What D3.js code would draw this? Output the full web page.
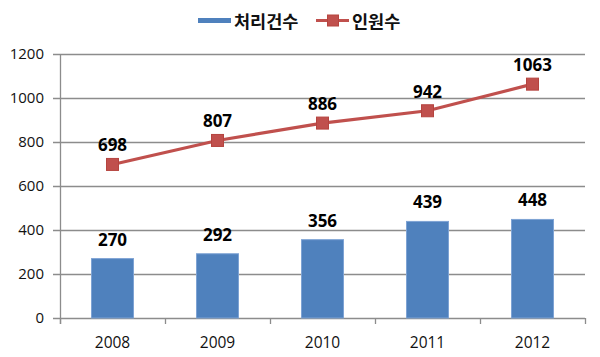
<!DOCTYPE html>
<html><head><meta charset="utf-8">
<script src="https://cdn.jsdelivr.net/npm/d3@7"></script>
<style>
html,body{margin:0;padding:0;background:#fff;}
svg{display:block;}
</style></head>
<body>
<svg id="chart" width="600" height="357"></svg>
<script>
const categories = ["2008","2009","2010","2011","2012"];
const casesHandled = [270, 292, 356, 439, 448];   // 처리건수
const staffCount = [698, 807, 886, 942, 1063];     // 인원수
const yTicks = [0, 200, 400, 600, 800, 1000, 1200];
const seriesNames = ["처리건수", "인원수"];

const svg = d3.select("#chart");
const m = {left: 60, right: 585, top: 54, bottom: 318};
const x = d3.scaleBand().domain(categories).range([m.left, m.right]).paddingInner(0).paddingOuter(0);
const y = d3.scaleLinear().domain([0, 1200]).range([m.bottom, m.top]);
const blue = "#4F81BD", red = "#C0504D", grid = "#8c8c8c";
const numFont = "'Open Sans', 'DejaVu Sans', sans-serif";

// gridlines
svg.append("g").selectAll("line").data(yTicks).join("line")
  .attr("x1", m.left - 7).attr("x2", m.right)
  .attr("y1", d => Math.round(y(d)) + 0.5).attr("y2", d => Math.round(y(d)) + 0.5)
  .attr("stroke", grid).attr("stroke-width", 1.3);

// y axis line
svg.append("line").attr("x1", m.left + 0.5).attr("x2", m.left + 0.5)
  .attr("y1", m.top).attr("y2", m.bottom + 6).attr("stroke", grid).attr("stroke-width", 1.3);

// x tick marks at category boundaries
const bounds = categories.map(c => x(c)).concat([m.right]);
svg.append("g").selectAll("line").data(bounds).join("line")
  .attr("x1", d => Math.round(d) + 0.5).attr("x2", d => Math.round(d) + 0.5)
  .attr("y1", m.bottom).attr("y2", m.bottom + 6)
  .attr("stroke", grid).attr("stroke-width", 1.3);

// y tick labels
svg.append("g").selectAll("text").data(yTicks).join("text")
  .attr("x", 44).attr("y", d => y(d)).attr("dy", "0.36em")
  .attr("text-anchor", "end").attr("font-family", numFont).attr("font-size", 15)
  .attr("fill", "#111").text(d => d);

// x tick labels
svg.append("g").selectAll("text").data(categories).join("text")
  .attr("x", d => x(d) + x.bandwidth() / 2).attr("y", 348)
  .attr("text-anchor", "middle").attr("font-family", numFont).attr("font-size", 15.5)
  .attr("fill", "#111").text(d => d);

// bars
const bw = 42;
svg.append("g").selectAll("rect").data(casesHandled).join("rect")
  .attr("x", (d, i) => x(categories[i]) + x.bandwidth() / 2 - bw / 2)
  .attr("y", d => y(d)).attr("width", bw).attr("height", d => y(0) - y(d))
  .attr("fill", blue).attr("stroke", "#7ea3d4").attr("stroke-width", 1);

// bar labels
svg.append("g").selectAll("text").data(casesHandled).join("text")
  .attr("x", (d, i) => x(categories[i]) + x.bandwidth() / 2)
  .attr("y", d => y(d) - 13)
  .attr("text-anchor", "middle").attr("font-family", numFont).attr("font-weight", "bold")
  .attr("font-size", 17).attr("fill", "#000").text(d => d);

// line
const line = d3.line().x((d, i) => x(categories[i]) + x.bandwidth() / 2).y(d => y(d));
svg.append("path").datum(staffCount).attr("d", line)
  .attr("fill", "none").attr("stroke", red).attr("stroke-width", 3.2);

// markers
const ms = 12;
svg.append("g").selectAll("rect").data(staffCount).join("rect")
  .attr("x", (d, i) => x(categories[i]) + x.bandwidth() / 2 - ms / 2)
  .attr("y", d => y(d) - ms / 2).attr("width", ms).attr("height", ms)
  .attr("fill", red).attr("stroke", "#b5443f").attr("stroke-width", 1);

// line labels
svg.append("g").selectAll("text").data(staffCount).join("text")
  .attr("x", (d, i) => x(categories[i]) + x.bandwidth() / 2)
  .attr("y", d => y(d) - 13)
  .attr("text-anchor", "middle").attr("font-family", numFont).attr("font-weight", "bold")
  .attr("font-size", 17).attr("fill", "#000").text(d => d);

// legend
const lg = svg.append("g");
lg.append("rect").attr("x", 198).attr("y", 18).attr("width", 33).attr("height", 5).attr("fill", blue);
lg.append("text").attr("x", 234).attr("y", 27.5).attr("font-family", "'Noto Sans CJK KR', sans-serif")
  .attr("font-weight", "bold").attr("font-size", 17.5).attr("fill", "#111").text(seriesNames[0]);
lg.append("line").attr("x1", 316).attr("x2", 349).attr("y1", 20.5).attr("y2", 20.5)
  .attr("stroke", red).attr("stroke-width", 3.2);
lg.append("rect").attr("x", 333 - 5.5).attr("y", 20.5 - 5.5).attr("width", 11).attr("height", 11)
  .attr("fill", red).attr("stroke", "#b5443f");
lg.append("text").attr("x", 352).attr("y", 27.5).attr("font-family", "'Noto Sans CJK KR', sans-serif")
  .attr("font-weight", "bold").attr("font-size", 17.5).attr("fill", "#111").text(seriesNames[1]);
</script>
</body></html>
